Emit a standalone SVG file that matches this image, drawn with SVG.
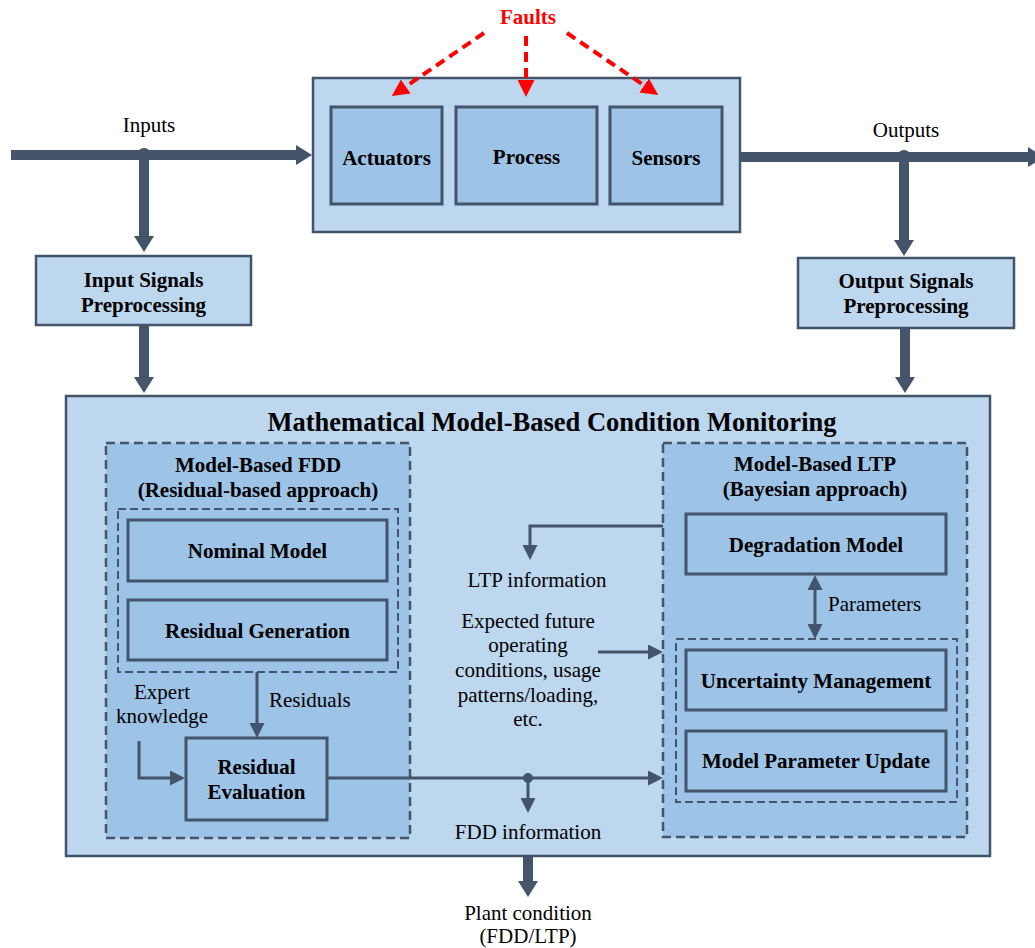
<svg xmlns="http://www.w3.org/2000/svg" width="1035" height="948" viewBox="0 0 1035 948">
  <style>
    .bg { fill: #ffffff; }
    .outer { fill: #BDD7EE; stroke: #44546A; stroke-width: 2.5; }
    .inner { fill: #9DC3E6; stroke: #44546A; stroke-width: 3; }
    .group { fill: #9DC3E6; stroke: #44546A; stroke-width: 2.5; stroke-dasharray: 9 5; }
    .subgroup { fill: none; stroke: #44546A; stroke-width: 2; stroke-dasharray: 8 4; }
    .bold { font-family: "Liberation Serif", "Times New Roman", serif; font-weight: bold; font-size: 21px; fill: #000; text-anchor: middle; }
    .title { font-family: "Liberation Serif", "Times New Roman", serif; font-weight: bold; font-size: 26.5px; fill: #000; text-anchor: middle; }
    .label { font-family: "Liberation Serif", "Times New Roman", serif; font-size: 21px; fill: #000; text-anchor: middle; }
    .fault { font-family: "Liberation Serif", "Times New Roman", serif; font-weight: bold; font-size: 21px; fill: #FF0000; text-anchor: middle; }
    .thick { stroke: #44546A; stroke-width: 10; fill: none; }
    .thin { stroke: #44546A; stroke-width: 3; fill: none; }
    .dash-red { stroke: #FF0000; stroke-width: 4; stroke-dasharray: 10 6; fill: none; }
    .dot { fill: #44546A; }
  </style>
  <defs>
    <marker id="headThick" markerUnits="userSpaceOnUse" markerWidth="16" markerHeight="20" refX="1" refY="10" orient="auto">
      <path d="M0,0 L16,10 L0,20 z" fill="#44546A"/>
    </marker>
    <marker id="headThin" markerUnits="userSpaceOnUse" markerWidth="15" markerHeight="15" refX="1" refY="7.5" orient="auto">
      <path d="M0,0 L15,7.5 L0,15 z" fill="#44546A"/>
    </marker>
    <marker id="headThinStart" markerUnits="userSpaceOnUse" markerWidth="15" markerHeight="15" refX="14" refY="7.5" orient="auto">
      <path d="M15,0 L0,7.5 L15,15 z" fill="#44546A"/>
    </marker>
    <marker id="headRed" markerUnits="userSpaceOnUse" markerWidth="17" markerHeight="17" refX="1" refY="8.5" orient="auto">
      <path d="M0,0 L17,8.5 L0,17 z" fill="#FF0000"/>
    </marker>
  </defs>

  <rect class="bg" x="0" y="0" width="1035" height="948"/>

  <!-- plant: actuators, process, sensors -->
  <g id="plant">
    <rect class="outer" x="313" y="78" width="427" height="154"/>
  </g>
  <g id="actuators">
    <rect class="inner" x="331" y="107" width="111" height="97"/>
    <text class="bold" x="386.5" y="165">Actuators</text>
  </g>
  <g id="process">
    <rect class="inner" x="456" y="107" width="141" height="97"/>
    <text class="bold" x="526.5" y="164">Process</text>
  </g>
  <g id="sensors">
    <rect class="inner" x="610" y="107" width="112" height="97"/>
    <text class="bold" x="666" y="165">Sensors</text>
  </g>

  <g id="faults">
    <text class="fault" x="528" y="24">Faults</text>
  </g>

  <g id="input-preprocessing">
    <rect class="outer" x="36" y="256" width="215" height="69"/>
    <text class="bold" x="143.5" y="287">Input Signals</text>
    <text class="bold" x="143.5" y="312">Preprocessing</text>
  </g>

  <g id="output-preprocessing">
    <rect class="outer" x="798" y="258" width="216" height="70"/>
    <text class="bold" x="906" y="288">Output Signals</text>
    <text class="bold" x="906" y="313">Preprocessing</text>
  </g>

  <!-- condition monitoring block -->
  <g id="condition-monitoring">
    <rect class="outer" x="66" y="396" width="924" height="460"/>
    <text class="title" x="552" y="431">Mathematical Model-Based Condition Monitoring</text>
  </g>

  <g id="fdd">
    <rect class="group" x="106" y="443" width="304" height="395"/>
    <text class="bold" x="258" y="472">Model-Based FDD</text>
    <text class="bold" x="258" y="497">(Residual-based approach)</text>
    <rect class="subgroup" x="118" y="509" width="280" height="163"/>
  </g>
  <g id="nominal-model">
    <rect class="inner" x="128" y="520" width="259" height="61"/>
    <text class="bold" x="257.5" y="558">Nominal Model</text>
  </g>
  <g id="residual-generation">
    <rect class="inner" x="128" y="600" width="259" height="60"/>
    <text class="bold" x="257.5" y="638">Residual Generation</text>
  </g>
  <g id="residual-evaluation">
    <rect class="inner" x="186" y="738" width="141" height="82"/>
    <text class="bold" x="256.5" y="774">Residual</text>
    <text class="bold" x="256.5" y="799">Evaluation</text>
  </g>

  <g id="ltp">
    <rect class="group" x="663" y="443" width="304" height="394"/>
    <text class="bold" x="815" y="471">Model-Based LTP</text>
    <text class="bold" x="815" y="496">(Bayesian approach)</text>
    <rect class="subgroup" x="676" y="639" width="281" height="163"/>
  </g>
  <g id="degradation-model">
    <rect class="inner" x="686" y="514" width="260" height="60"/>
    <text class="bold" x="816" y="552">Degradation Model</text>
  </g>
  <g id="uncertainty-management">
    <rect class="inner" x="686" y="650" width="260" height="60"/>
    <text class="bold" x="816" y="688">Uncertainty Management</text>
  </g>
  <g id="parameter-update">
    <rect class="inner" x="686" y="731" width="260" height="60"/>
    <text class="bold" x="816" y="768">Model Parameter Update</text>
  </g>

  <!-- free labels -->
  <g id="labels">
    <text class="label" x="149" y="132">Inputs</text>
    <text class="label" x="906" y="137">Outputs</text>
    <text class="label" x="269" y="707" text-anchor="start" style="text-anchor:start">Residuals</text>
    <text class="label" x="162" y="699">Expert</text>
    <text class="label" x="162" y="723">knowledge</text>
    <text class="label" x="537" y="587">LTP information</text>
    <text class="label" x="528" y="628">Expected future</text>
    <text class="label" x="528" y="652">operating</text>
    <text class="label" x="528" y="677">conditions, usage</text>
    <text class="label" x="528" y="702">patterns/loading,</text>
    <text class="label" x="528" y="726">etc.</text>
    <text class="label" x="828" y="611" style="text-anchor:start">Parameters</text>
    <text class="label" x="528" y="839">FDD information</text>
    <text class="label" x="528" y="920">Plant condition</text>
    <text class="label" x="528" y="943">(FDD/LTP)</text>
  </g>

  <!-- connectors -->
  <g id="connectors">
    <!-- fault injections -->
    <line class="dash-red" x1="484" y1="33" x2="405" y2="87" marker-end="url(#headRed)"/>
    <line class="dash-red" x1="526" y1="36" x2="526" y2="81" marker-end="url(#headRed)"/>
    <line class="dash-red" x1="567" y1="33" x2="645" y2="86" marker-end="url(#headRed)"/>

    <!-- inputs -->
    <line class="thick" x1="11" y1="155" x2="297" y2="155" marker-end="url(#headThick)"/>
    <circle class="dot" cx="144" cy="155" r="7"/>
    <line class="thick" x1="144" y1="155" x2="144" y2="237" marker-end="url(#headThick)"/>
    <line class="thick" x1="144" y1="325" x2="144" y2="378" marker-end="url(#headThick)"/>

    <!-- outputs -->
    <line class="thick" x1="740" y1="157" x2="1029" y2="157" marker-end="url(#headThick)"/>
    <circle class="dot" cx="904" cy="157" r="7"/>
    <line class="thick" x1="904" y1="157" x2="904" y2="241" marker-end="url(#headThick)"/>
    <line class="thick" x1="905" y1="328" x2="905" y2="378" marker-end="url(#headThick)"/>

    <!-- plant condition -->
    <line class="thick" x1="528" y1="856" x2="528" y2="882" marker-end="url(#headThick)"/>

    <!-- FDD internal -->
    <line class="thin" x1="257" y1="672" x2="257" y2="724" marker-end="url(#headThin)"/>
    <polyline class="thin" points="139,741 139,778 171,778" marker-end="url(#headThin)"/>

    <!-- FDD result to LTP and to FDD information -->
    <line class="thin" x1="327" y1="778" x2="649" y2="778" marker-end="url(#headThin)"/>
    <circle class="dot" cx="528" cy="778" r="5"/>
    <line class="thin" x1="528" y1="778" x2="528" y2="799" marker-end="url(#headThin)"/>

    <!-- LTP information -->
    <polyline class="thin" points="663,526 530,526 530,546" marker-end="url(#headThin)"/>

    <!-- expected future conditions -->
    <line class="thin" x1="598" y1="652" x2="649" y2="652" marker-end="url(#headThin)"/>

    <!-- parameters exchange -->
    <line class="thin" x1="815" y1="589" x2="815" y2="625" marker-start="url(#headThinStart)" marker-end="url(#headThin)"/>
  </g>
</svg>
